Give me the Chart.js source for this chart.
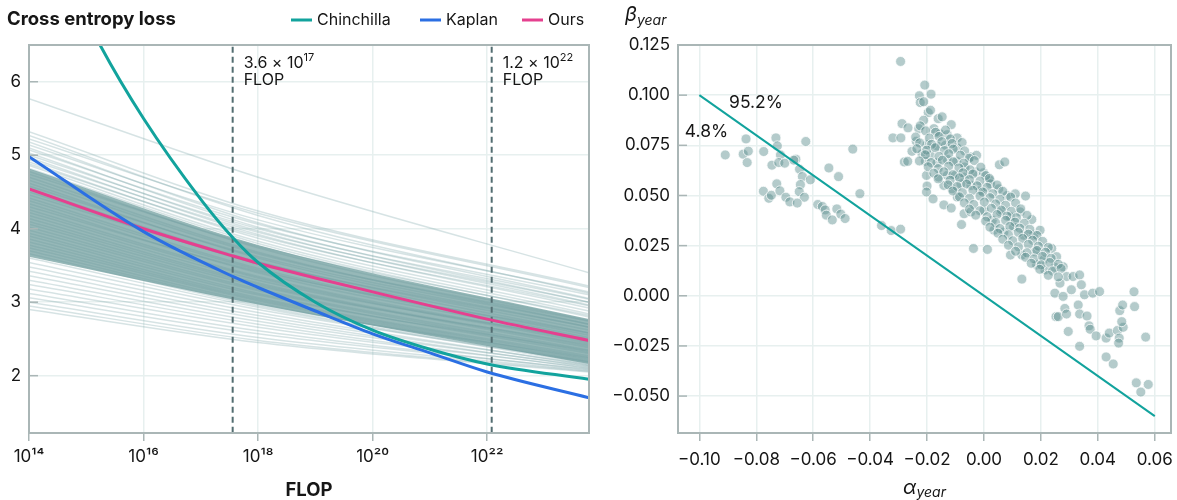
<!DOCTYPE html>
<html>
<head>
<meta charset="utf-8">
<script src="https://cdn.jsdelivr.net/npm/chart.js@4.4.1/dist/chart.umd.min.js"></script>
<style>
  html, body { margin: 0; padding: 0; background: #fff; }
  body { width: 1177px; height: 500px; position: relative; overflow: hidden; }
  #lossBox { position: absolute; left: 0; top: 0; width: 600px; height: 500px; }
  #betaBox { position: absolute; left: 600px; top: 0; width: 577px; height: 500px; }
</style>
</head>
<body>
<div id="lossBox"><canvas id="lossChart"></canvas></div>
<div id="betaBox"><canvas id="betaChart"></canvas></div>
<script>
// ---- left panel: loss vs compute ----
const flopTicks = [1e14, 1e16, 1e18, 1e20, 1e22];
const flopTickLabels = ['10¹⁴', '10¹⁶', '10¹⁸', '10²⁰', '10²²'];
const lossTicks = [2, 3, 4, 5, 6];

const chinFlop = [1e15, 1.74e15, 1e16, 1e17, 3.6e17, 1e18, 1e19, 1e20, 1e21, 1e22, 6e23];
const chinLoss = [6.88, 6.5, 5.5, 4.40, 3.88, 3.54, 3.00, 2.62, 2.36, 2.16, 1.95];

const kapFlop = [1e14, 1e16, 3.6e17, 1e18, 1e19, 1e20, 1e21, 1e22, 6e23];
const kapLoss = [4.98, 3.96, 3.35, 3.20, 2.88, 2.57, 2.31, 2.05, 1.70];

const oursFlop = [1e14, 1e16, 3.6e17, 1e18, 1e19, 1e20, 1e22, 6e23];
const oursLoss = [4.54, 4.00, 3.63, 3.53, 3.33, 3.14, 2.77, 2.48];

// bootstrap fits, loss at 1e14, 1e18 and 6e23 FLOP
const ensembleFlop = [1e14, 1e18, 6e23];
const ensembleLoss = [
  [5.77, 4.70, 3.40], [5.32, 4.24, 3.22], [5.27, 4.18, 3.12], [5.22, 4.21, 3.20],
  [5.18, 4.08, 3.05], [5.14, 4.12, 3.14], [5.10, 4.02, 3.00], [5.07, 4.06, 3.10],
  [5.03, 3.97, 2.96], [5.00, 4.00, 3.04], [4.97, 3.92, 2.92], [4.94, 3.95, 3.00],
  [4.91, 3.87, 2.88], [4.88, 3.90, 2.95], [4.86, 3.83, 2.84],
  [4.82, 3.80, 2.80], [4.78, 3.74, 2.75], [4.74, 3.76, 2.82], [4.70, 3.68, 2.70],
  [4.66, 3.66, 2.74], [4.62, 3.60, 2.66], [4.58, 3.62, 2.70], [4.54, 3.55, 2.62],
  [4.50, 3.52, 2.58], [4.46, 3.54, 2.66], [4.42, 3.46, 2.55], [4.38, 3.44, 2.52],
  [4.34, 3.40, 2.50], [4.30, 3.42, 2.58], [4.26, 3.35, 2.46], [4.22, 3.33, 2.44],
  [4.18, 3.30, 2.48], [4.14, 3.26, 2.40], [4.10, 3.24, 2.38], [4.06, 3.22, 2.42],
  [4.02, 3.18, 2.35], [3.98, 3.16, 2.32], [3.94, 3.12, 2.30], [3.90, 3.10, 2.34],
  [3.86, 3.06, 2.27], [3.82, 3.04, 2.25], [3.78, 3.02, 2.22], [3.74, 2.99, 2.20],
  [3.70, 2.97, 2.24], [3.66, 2.95, 2.18],
  [3.60, 2.93, 2.16], [3.54, 2.90, 2.19], [3.48, 2.86, 2.14], [3.42, 2.82, 2.15],
  [3.36, 2.78, 2.12], [3.30, 2.74, 2.13], [3.24, 2.70, 2.10], [3.18, 2.66, 2.11],
  [3.12, 2.61, 2.08], [3.06, 2.57, 2.09], [3.00, 2.52, 2.07], [2.95, 2.48, 2.06],
  [2.90, 2.45, 2.05]
];
// densest part of the bundle
const coreUpper = [4.82, 3.78, 2.77];
const coreLower = [3.62, 2.97, 2.16];

const markerFlop = [3.6e17, 1.2e22];
const markerMantissa = ['3.6', '1.2'];
const markerExponent = ['17', '22'];

// ---- right panel: alpha_year vs beta_year ----
const alphaTicks = [-0.10, -0.08, -0.06, -0.04, -0.02, 0.00, 0.02, 0.04, 0.06];
const alphaTickLabels = ['−0.10', '−0.08', '−0.06', '−0.04', '−0.02', '0.00', '0.02', '0.04', '0.06'];
const betaTicks = [-0.050, -0.025, 0.000, 0.025, 0.050, 0.075, 0.100, 0.125];
const betaTickLabels = ['−0.050', '−0.025', '0.000', '0.025', '0.050', '0.075', '0.100', '0.125'];

const lineAlpha = [-0.10, 0.06];
const lineBeta = [0.10, -0.06];

const shareLabels = ['95.2%', '4.8%'];
const shareAlpha = [-0.0801, -0.0975];
const shareBeta = [0.0961, 0.0817];

const alphaBeta = [
  // left group
  [-0.0909, 0.0702], [-0.0846, 0.0706], [-0.0828, 0.0721], [-0.0832, 0.0664], [-0.0836, 0.0782],
  [-0.0774, 0.0719], [-0.0731, 0.0787], [-0.0726, 0.0747], [-0.0715, 0.0702], [-0.0745, 0.0651],
  [-0.0721, 0.0664], [-0.0700, 0.0661], [-0.0661, 0.0681], [-0.0668, 0.0676], [-0.0648, 0.0631],
  [-0.0626, 0.0769], [-0.0638, 0.0594], [-0.0610, 0.0578], [-0.0645, 0.0554], [-0.0649, 0.0519],
  [-0.0631, 0.0491], [-0.0545, 0.0637], [-0.0511, 0.0594], [-0.0461, 0.0731], [-0.0436, 0.0509],
  [-0.0775, 0.0521], [-0.0756, 0.0486], [-0.0747, 0.0501], [-0.0728, 0.0558], [-0.0717, 0.0523],
  [-0.0696, 0.0491], [-0.0682, 0.0468], [-0.0656, 0.0462], [-0.0584, 0.0455], [-0.0568, 0.0445],
  [-0.0558, 0.0428], [-0.0554, 0.0402], [-0.0533, 0.0378], [-0.0517, 0.0433], [-0.0503, 0.0407],
  [-0.0488, 0.0385], [-0.0360, 0.0350], [-0.0326, 0.0325], [-0.0293, 0.0332], [-0.0293, 0.1168],
  // main cluster, upper part
  [-0.0208, 0.1050], [-0.0227, 0.0997], [-0.0186, 0.1005], [-0.0224, 0.0963], [-0.0212, 0.0967],
  [-0.0196, 0.0913], [-0.0188, 0.0925], [-0.0161, 0.0883], [-0.0147, 0.0892], [-0.0212, 0.0875],
  [-0.0288, 0.0858], [-0.0267, 0.0837], [-0.0320, 0.0787], [-0.0292, 0.0787], [-0.0229, 0.0833],
  [-0.0224, 0.0847], [-0.0176, 0.0833], [-0.0115, 0.0853], [-0.0155, 0.0808], [-0.0129, 0.0803],
  [-0.0094, 0.0787], [-0.0253, 0.0720], [-0.0238, 0.0770], [-0.0200, 0.0753], [-0.0165, 0.0747],
  [-0.0135, 0.0750], [-0.0094, 0.0737], [-0.0218, 0.0708], [-0.0188, 0.0700], [-0.0280, 0.0667],
  [-0.0268, 0.0670], [-0.0206, 0.0670], [-0.0165, 0.0663], [-0.0129, 0.0680], [-0.0096, 0.0670],
  [-0.0047, 0.0692], [-0.0026, 0.0700], [-0.0067, 0.0642], [-0.0029, 0.0617], [-0.0002, 0.0613],
  [0.0054, 0.0653], [0.0073, 0.0667], [-0.0202, 0.0600], [-0.0159, 0.0592], [-0.0129, 0.0600],
  [-0.0100, 0.0600], [-0.0068, 0.0592], [0.0022, 0.0575], [-0.0200, 0.0547], [-0.0202, 0.0517],
  [-0.0141, 0.0550], [-0.0112, 0.0533], [-0.0179, 0.0483], [-0.0141, 0.0453], [-0.0115, 0.0437],
  [-0.0094, 0.0492],
  // main cluster, middle part
  [-0.0081, 0.0558], [-0.0046, 0.0550], [-0.0012, 0.0525], [0.0023, 0.0558], [0.0052, 0.0533],
  [0.0081, 0.0500], [0.0110, 0.0508], [0.0146, 0.0497], [-0.0070, 0.0409], [-0.0079, 0.0355],
  [-0.0046, 0.0418], [0.0000, 0.0426], [0.0029, 0.0376], [0.0058, 0.0418], [0.0093, 0.0393],
  [0.0127, 0.0418], [0.0168, 0.0380], [0.0035, 0.0327], [0.0070, 0.0318], [0.0104, 0.0343],
  [0.0139, 0.0302], [0.0174, 0.0302], [0.0197, 0.0327], [-0.0037, 0.0236], [0.0012, 0.0231],
  [0.0093, 0.0203], [0.0133, 0.0203], [0.0180, 0.0219], [0.0209, 0.0178], [0.0238, 0.0236],
  [0.0255, 0.0195], [0.0185, 0.0154], [0.0214, 0.0129], [0.0249, 0.0142], [0.0278, 0.0145],
  [0.0290, 0.0096], [0.0313, 0.0096], [0.0336, 0.0104], [0.0133, 0.0083], [0.0267, 0.0063],
  [0.0307, 0.0030], [0.0342, 0.0055], [0.0353, 0.0005], [0.0382, 0.0013], [0.0406, 0.0021],
  [0.0249, 0.0013], [0.0278, -0.0003],
  // lower right tail
  [0.0284, -0.0063], [0.0331, -0.0046], [0.0253, -0.0104], [0.0261, -0.0104], [0.0290, -0.0091],
  [0.0336, -0.0091], [0.0362, -0.0101], [0.0296, -0.0178], [0.0369, -0.0150], [0.0373, -0.0167],
  [0.0394, -0.0200], [0.0336, -0.0252], [0.0429, -0.0211], [0.0440, -0.0186], [0.0469, -0.0173],
  [0.0489, -0.0157], [0.0484, -0.0129], [0.0477, -0.0074], [0.0487, -0.0046], [0.0527, 0.0020],
  [0.0529, -0.0054], [0.0475, -0.0211], [0.0473, -0.0236], [0.0568, -0.0206], [0.0429, -0.0305],
  [0.0454, -0.0340], [0.0535, -0.0434], [0.0577, -0.0442], [0.0551, -0.0480],
  // dense core of the cluster
  [-0.0205, 0.0822], [-0.0170, 0.0815], [-0.0135, 0.0826],
  [-0.0240, 0.0791], [-0.0192, 0.0786], [-0.0158, 0.0794], [-0.0118, 0.0782],
  [-0.0226, 0.0762], [-0.0184, 0.0755], [-0.0148, 0.0768], [-0.0112, 0.0759], [-0.0077, 0.0764],
  [-0.0236, 0.0733], [-0.0201, 0.0726], [-0.0171, 0.0738], [-0.0139, 0.0724], [-0.0108, 0.0731], [-0.0068, 0.0722],
  [-0.0206, 0.0703], [-0.0158, 0.0695], [-0.0124, 0.0708], [-0.0083, 0.0701], [-0.0052, 0.0686],
  [-0.0227, 0.0672], [-0.0186, 0.0664], [-0.0146, 0.0676], [-0.0108, 0.0668], [-0.0071, 0.0661], [-0.0034, 0.0674],
  [-0.0196, 0.0643], [-0.0161, 0.0634], [-0.0124, 0.0646], [-0.0088, 0.0637], [-0.0049, 0.0628], [-0.0011, 0.0641],
  [-0.0176, 0.0611], [-0.0141, 0.0618], [-0.0109, 0.0604], [-0.0074, 0.0613], [-0.0039, 0.0607], [0.0006, 0.0599],
  [-0.0161, 0.0583], [-0.0119, 0.0576], [-0.0086, 0.0588], [-0.0051, 0.0579], [-0.0014, 0.0572], [0.0019, 0.0585],
  [-0.0126, 0.0553], [-0.0094, 0.0545], [-0.0061, 0.0557], [-0.0024, 0.0548], [0.0011, 0.0541], [0.0046, 0.0552],
  [-0.0109, 0.0522], [-0.0076, 0.0514], [-0.0039, 0.0526], [-0.0004, 0.0517], [0.0031, 0.0509], [0.0066, 0.0521],
  [-0.0086, 0.0493], [-0.0051, 0.0486], [-0.0014, 0.0497], [0.0021, 0.0489], [0.0056, 0.0481], [0.0094, 0.0492],
  [-0.0069, 0.0463], [-0.0036, 0.0455], [0.0001, 0.0467], [0.0041, 0.0458], [0.0076, 0.0451], [0.0111, 0.0462],
  [-0.0051, 0.0432], [-0.0014, 0.0424], [0.0026, 0.0436], [0.0061, 0.0427], [0.0096, 0.0421], [0.0129, 0.0433],
  [-0.0029, 0.0402], [0.0011, 0.0394], [0.0046, 0.0405], [0.0081, 0.0397], [0.0114, 0.0389], [0.0151, 0.0401],
  [0.0006, 0.0372], [0.0041, 0.0364], [0.0076, 0.0376], [0.0109, 0.0367], [0.0141, 0.0361],
  [0.0021, 0.0342], [0.0056, 0.0335], [0.0091, 0.0346], [0.0126, 0.0337], [0.0161, 0.0331],
  [0.0049, 0.0312], [0.0086, 0.0304], [0.0121, 0.0316], [0.0156, 0.0307], [0.0186, 0.0301],
  [0.0066, 0.0282], [0.0101, 0.0274], [0.0136, 0.0286], [0.0171, 0.0277], [0.0206, 0.0271],
  [0.0086, 0.0252], [0.0121, 0.0244], [0.0156, 0.0256], [0.0191, 0.0247], [0.0226, 0.0241],
  [0.0111, 0.0222], [0.0151, 0.0214], [0.0186, 0.0226], [0.0216, 0.0217],
  [0.0146, 0.0192], [0.0176, 0.0184], [0.0206, 0.0196], [0.0236, 0.0187],
  [0.0166, 0.0162], [0.0201, 0.0154], [0.0231, 0.0166], [0.0261, 0.0157],
  [0.0196, 0.0132], [0.0241, 0.0124], [0.0271, 0.0136],
  [0.0226, 0.0102], [0.0261, 0.0094]
];

// ---- styles ----
const chinColor = '#12a39d';
const kapColor = '#2b6fe3';
const oursColor = '#e5408f';
const frameColor = '#aab6b6';
const gridColor = '#e7f0ef';
const markerColor = '#536d71';
const textColor = '#161616';
const fontFamily = "Inter, 'Noto Sans', sans-serif";

Chart.defaults.font.family = fontFamily;
Chart.defaults.font.size = 17;
Chart.defaults.color = textColor;

function pts(xs, ys) {
  return xs.map((x, i) => ({ x: x, y: ys[i] }));
}

// keep the plot area where the layout padding puts it, even if edge labels overhang
function fitBottomAxis(s) {
  s.height = 67;
  s.paddingLeft = 0;
  s.paddingRight = 0;
}

function drawParts(ctx, parts, x, y, align) {
  let w = 0;
  parts.forEach(p => { ctx.font = p[1]; w += ctx.measureText(p[0]).width; });
  let cx = align === 'center' ? x - w / 2 : x;
  ctx.textAlign = 'left';
  parts.forEach(p => {
    ctx.font = p[1];
    ctx.fillText(p[0], cx, y + (p[2] || 0));
    cx += ctx.measureText(p[0]).width;
  });
}

// ---- left chart datasets ----
const lossDatasets = [
  { label: 'Chinchilla', data: pts(chinFlop, chinLoss), borderColor: chinColor, borderWidth: 3,
    pointRadius: 0, cubicInterpolationMode: 'monotone', order: 0 },
  { label: 'Kaplan', data: pts(kapFlop, kapLoss), borderColor: kapColor, borderWidth: 3,
    pointRadius: 0, cubicInterpolationMode: 'monotone', order: 0 },
  { label: 'Ours', data: pts(oursFlop, oursLoss), borderColor: oursColor, borderWidth: 3,
    pointRadius: 0, cubicInterpolationMode: 'monotone', order: 0 }
];
markerFlop.forEach(f => {
  lossDatasets.push({ label: 'marker', data: [{ x: f, y: 0 }, { x: f, y: 10 }], borderColor: markerColor,
    borderWidth: 2, borderDash: [6, 4], pointRadius: 0, order: 1 });
});
ensembleLoss.forEach(row => {
  lossDatasets.push({ label: 'fit', data: pts(ensembleFlop, row), borderColor: 'rgba(105,152,154,0.27)',
    borderWidth: 1.5, pointRadius: 0, cubicInterpolationMode: 'monotone', order: 2 });
});
lossDatasets.push({ label: 'coreUpper', data: pts(ensembleFlop, coreUpper), borderWidth: 0, pointRadius: 0,
  cubicInterpolationMode: 'monotone', fill: '+1', backgroundColor: 'rgb(150,184,184)', order: 3 });
lossDatasets.push({ label: 'coreLower', data: pts(ensembleFlop, coreLower), borderWidth: 0, pointRadius: 0,
  cubicInterpolationMode: 'monotone', fill: false, order: 3 });

const lossDecor = {
  id: 'lossDecor',
  afterDraw(chart) {
    const { ctx, chartArea: a, scales: { x, y } } = chart;
    ctx.save();
    ctx.strokeStyle = frameColor;
    ctx.lineWidth = 2;
    ctx.strokeRect(a.left, a.top, a.right - a.left, a.bottom - a.top);
    ctx.lineWidth = 1.5;
    lossTicks.forEach(v => {
      const py = y.getPixelForValue(v);
      ctx.beginPath(); ctx.moveTo(a.left, py); ctx.lineTo(a.left + 9, py); ctx.stroke();
    });

    ctx.fillStyle = textColor;
    ctx.textBaseline = 'middle';
    ctx.textAlign = 'left';
    ctx.font = '700 18.5px ' + fontFamily;
    ctx.fillText('Cross entropy loss', 7, 19);

    const legend = [['Chinchilla', chinColor, 291], ['Kaplan', kapColor, 420], ['Ours', oursColor, 522]];
    ctx.font = '16px ' + fontFamily;
    ctx.lineWidth = 3;
    legend.forEach(l => {
      ctx.strokeStyle = l[1];
      ctx.beginPath(); ctx.moveTo(l[2], 20); ctx.lineTo(l[2] + 21, 20); ctx.stroke();
      ctx.fillText(l[0], l[2] + 26, 20);
    });

    ctx.textAlign = 'center';
    ctx.font = '700 18.5px ' + fontFamily;
    ctx.fillText('FLOP', (a.left + a.right) / 2, 490);

    ctx.textBaseline = 'alphabetic';
    markerFlop.forEach((f, i) => {
      const px = x.getPixelForValue(f) + 11;
      drawParts(ctx, [[markerMantissa[i] + ' × 10', '16px ' + fontFamily], [markerExponent[i], '11px ' + fontFamily, -7]], px, 68);
      ctx.font = '16px ' + fontFamily;
      ctx.fillText('FLOP', px, 85);
    });
    ctx.restore();
  }
};

new Chart(document.getElementById('lossChart'), {
  type: 'line',
  data: { datasets: lossDatasets },
  options: {
    responsive: true,
    maintainAspectRatio: false,
    animation: false,
    events: [],
    layout: { padding: { left: 0, right: 11, top: 45, bottom: 0 } },
    plugins: { legend: { display: false }, tooltip: { enabled: false } },
    scales: {
      x: {
        type: 'logarithmic', min: 1e14, max: 6e23,
        afterBuildTicks: s => { s.ticks = flopTicks.map(v => ({ value: v })); },
        afterFit: fitBottomAxis,
        ticks: { autoSkip: false, maxRotation: 0, padding: 6, callback: (v, i) => flopTickLabels[i] },
        grid: { color: gridColor, lineWidth: 1.5, tickLength: 8, tickColor: frameColor, tickWidth: 1.5 },
        border: { display: false }
      },
      y: {
        type: 'linear', min: 1.22, max: 6.5,
        afterBuildTicks: s => { s.ticks = lossTicks.map(v => ({ value: v })); },
        afterFit: s => { s.width = 29; },
        ticks: { padding: 8, callback: v => String(v) },
        grid: { color: gridColor, lineWidth: 1.5, drawTicks: false },
        border: { display: false }
      }
    }
  },
  plugins: [lossDecor]
});

// ---- right chart ----
const betaDecor = {
  id: 'betaDecor',
  afterDraw(chart) {
    const { ctx, chartArea: a, scales: { x, y } } = chart;
    ctx.save();
    ctx.strokeStyle = frameColor;
    ctx.lineWidth = 2;
    ctx.strokeRect(a.left, a.top, a.right - a.left, a.bottom - a.top);
    ctx.lineWidth = 1.5;
    betaTicks.forEach(v => {
      const py = y.getPixelForValue(v);
      ctx.beginPath(); ctx.moveTo(a.left, py); ctx.lineTo(a.left + 9, py); ctx.stroke();
    });

    ctx.fillStyle = textColor;
    ctx.textBaseline = 'alphabetic';
    drawParts(ctx, [['β', 'italic 20px ' + fontFamily], ['year', 'italic 14px ' + fontFamily, 4]], 25, 21);
    drawParts(ctx, [['α', 'italic 20px ' + fontFamily], ['year', 'italic 14px ' + fontFamily, 3]],
      (a.left + a.right) / 2, 494, 'center');

    ctx.textBaseline = 'middle';
    ctx.textAlign = 'center';
    ctx.font = '17.5px ' + fontFamily;
    shareLabels.forEach((t, i) => {
      ctx.fillText(t, x.getPixelForValue(shareAlpha[i]), y.getPixelForValue(shareBeta[i]));
    });
    ctx.restore();
  }
};

new Chart(document.getElementById('betaChart'), {
  type: 'scatter',
  data: {
    datasets: [
      { label: 'boundary', data: pts(lineAlpha, lineBeta), showLine: true, borderColor: chinColor,
        borderWidth: 2, pointRadius: 0, order: 0 },
      { label: 'fits', data: alphaBeta.map(p => ({ x: p[0], y: p[1] })), pointRadius: 5,
        backgroundColor: 'rgba(95,145,145,0.47)', borderColor: 'rgba(255,255,255,0.75)', borderWidth: 1, order: 1 }
    ]
  },
  options: {
    responsive: true,
    maintainAspectRatio: false,
    animation: false,
    events: [],
    layout: { padding: { left: 0, right: 1, top: 45, bottom: 0 } },
    plugins: { legend: { display: false }, tooltip: { enabled: false } },
    scales: {
      x: {
        type: 'linear', min: -0.1075, max: 0.0657,
        afterBuildTicks: s => { s.ticks = alphaTicks.map(v => ({ value: v })); },
        afterFit: fitBottomAxis,
        ticks: { autoSkip: false, maxRotation: 0, padding: 9, callback: (v, i) => alphaTickLabels[i] },
        grid: { color: gridColor, lineWidth: 1.5, tickLength: 8, tickColor: frameColor, tickWidth: 1.5 },
        border: { display: false }
      },
      y: {
        type: 'linear', min: -0.0684, max: 0.125,
        afterBuildTicks: s => { s.ticks = betaTicks.map(v => ({ value: v })); },
        afterFit: s => { s.width = 78; },
        ticks: { padding: 8, callback: (v, i) => betaTickLabels[i] },
        grid: { color: gridColor, lineWidth: 1.5, drawTicks: false },
        border: { display: false }
      }
    }
  },
  plugins: [betaDecor]
});
</script>
</body>
</html>
